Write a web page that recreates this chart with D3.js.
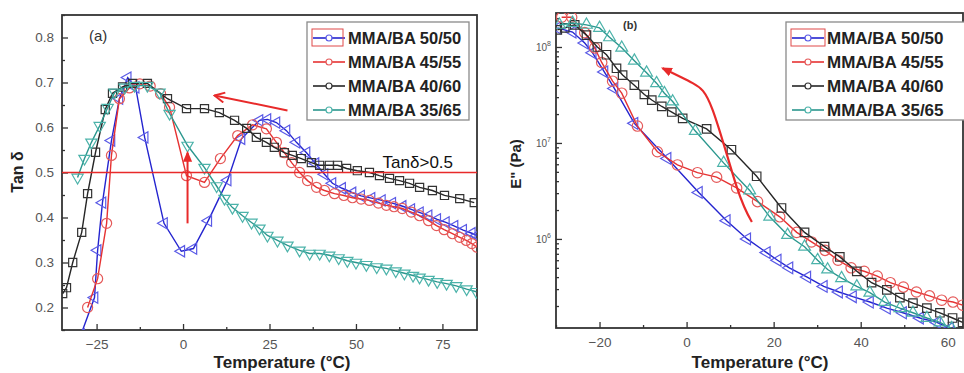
<!DOCTYPE html>
<meta charset="utf-8">
<script src="https://d3js.org/d3.v7.min.js"></script>
<style>
  body { margin: 0; background: #fff; }
  text { font-family: "Liberation Sans", Arial, sans-serif; }
</style>
<div id="chart"></div>
<script>

// ---------- data, panel (a): tan delta vs temperature
var seriesNames = ["MMA/BA 50/50", "MMA/BA 45/55", "MMA/BA 40/60", "MMA/BA 35/65"];

var tanT_50 = [-29.5, -25.6, -24.7, -23.3, -20.7, -18.4, -16, -13.7, -11.1, -5.5, -0.5, 3, 7.3, 12.9, 16.9, 22.1, 24.4, 27, 29.9, 32.8, 35.7, 38.3, 40.9, 43.2, 46, 49, 51.5, 54.5, 57.5, 60.5, 63.5, 66, 68.5, 71, 73.5, 76, 78.5, 81, 83.5, 85];
var tanV_50 = [0.14, 0.222, 0.327, 0.433, 0.571, 0.664, 0.711, 0.689, 0.578, 0.387, 0.325, 0.331, 0.393, 0.483, 0.575, 0.616, 0.618, 0.611, 0.593, 0.567, 0.544, 0.52, 0.496, 0.476, 0.465, 0.455, 0.448, 0.443, 0.438, 0.432, 0.425, 0.418, 0.411, 0.404, 0.396, 0.389, 0.381, 0.372, 0.365, 0.36];

var tanT_45 = [-27.6, -24.7, -22.1, -20.7, -18.4, -15.5, -12.5, -9.5, -6.5, -3.9, 1, 6.2, 10.8, 15.8, 20.1, 24.1, 27, 29.3, 31.4, 33.7, 36, 38.6, 40.9, 43.8, 46.5, 49, 51.5, 53.9, 56.5, 58.8, 61, 63.4, 66, 68.4, 71, 73.3, 75.5, 77.9, 80, 81.9, 83.5, 85];
var tanV_45 = [0.2, 0.264, 0.387, 0.538, 0.664, 0.688, 0.697, 0.692, 0.675, 0.645, 0.493, 0.478, 0.531, 0.582, 0.606, 0.597, 0.567, 0.544, 0.522, 0.5, 0.482, 0.467, 0.46, 0.453, 0.449, 0.444, 0.441, 0.438, 0.432, 0.427, 0.424, 0.42, 0.412, 0.404, 0.393, 0.382, 0.373, 0.364, 0.356, 0.349, 0.342, 0.334];

var tanT_40 = [-34.8, -33.7, -31.9, -29.3, -27.6, -25.3, -22.5, -20.4, -17.5, -14.6, -10.3, -4.5, 1, 6.2, 10.5, 14.9, 18.4, 21.2, 24.1, 26.4, 29.3, 31.6, 34.2, 37.1, 39.5, 42.3, 44.7, 47.3, 50.4, 53.9, 56.8, 59.7, 62.6, 65.5, 68.4, 72.1, 75.6, 80, 84.2];
var tanV_40 = [0.231, 0.244, 0.3, 0.367, 0.453, 0.545, 0.64, 0.676, 0.69, 0.698, 0.698, 0.664, 0.642, 0.642, 0.633, 0.616, 0.598, 0.578, 0.567, 0.556, 0.544, 0.538, 0.531, 0.522, 0.516, 0.516, 0.516, 0.509, 0.504, 0.5, 0.493, 0.487, 0.482, 0.476, 0.467, 0.46, 0.449, 0.442, 0.433];

var tanT_35 = [-30.5, -28.5, -26.5, -24.1, -21.8, -19.8, -16.9, -14, -10.3, -6.8, -3.9, 1.3, 6.2, 9.7, 12, 14.3, 17.2, 19.8, 22.1, 24.4, 27.3, 30.2, 33.7, 36.6, 39.5, 42.3, 45, 47.5, 50, 53, 56, 58.8, 61.5, 64, 66.5, 68.4, 71, 73.5, 76.2, 79, 82, 84.8];
var tanV_35 = [0.489, 0.531, 0.567, 0.604, 0.644, 0.678, 0.689, 0.693, 0.693, 0.678, 0.631, 0.56, 0.511, 0.47, 0.442, 0.422, 0.404, 0.389, 0.376, 0.36, 0.349, 0.338, 0.327, 0.32, 0.32, 0.316, 0.31, 0.304, 0.3, 0.295, 0.29, 0.287, 0.281, 0.276, 0.271, 0.267, 0.262, 0.257, 0.253, 0.248, 0.241, 0.235];

// ---------- data, panel (b): loss modulus E'' (Pa)
var eT_50 = [-29.7, -26.2, -23.4, -21.6, -18.9, -16.6, -12, -4.4, 2.8, 9.2, 13.9, 18.4, 20.9, 23.6, 27.7, 31.5, 35, 38.2, 42.1, 46, 49.7, 53.6, 57.5, 60.5];
var eV_50 = [1.58e8, 1.43e8, 1.1e8, 8.7e7, 5.5e7, 3.7e7, 1.6e7, 6.9e6, 3.05e6, 1.55e6, 1.0e6, 7.2e5, 6.0e5, 5.0e5, 4.0e5, 3.2e5, 2.8e5, 2.5e5, 2.2e5, 1.9e5, 1.7e5, 1.5e5, 1.35e5, 1.17e5];

var eT_45 = [-28.7, -26.4, -23.4, -21.1, -19.5, -17, -14.9, -11.3, -6.7, -2.1, 2.5, 6.9, 11.5, 16.3, 21.4, 25.3, 28.7, 31.8, 34.8, 37.8, 40.8, 43.8, 46.8, 49.8, 52.8, 55.8, 58.6, 61.2, 63.4];
var eV_45 = [2.04e8, 2.04e8, 1.41e8, 9.8e7, 6.9e7, 4.4e7, 3.3e7, 1.5e7, 8.1e6, 5.9e6, 4.9e6, 4.4e6, 3.4e6, 2.45e6, 1.7e6, 1.17e6, 9.3e5, 7.6e5, 6.0e5, 5.0e5, 4.6e5, 4.1e5, 3.5e5, 3.15e5, 2.8e5, 2.55e5, 2.3e5, 2.2e5, 2.04e5];

var eT_40 = [-29.7, -28, -25.7, -23, -20.5, -18.4, -16.1, -14.7, -12, -9.7, -8, -5.7, -3.4, -0.9, 4.6, 10.3, 16.1, 21.8, 27.1, 31.7, 35.2, 39.1, 42.5, 46, 49, 52, 55.2, 58.2, 61.1, 63.4];
var eV_40 = [1.51e8, 1.58e8, 1.7e8, 1.33e8, 1.0e8, 8.3e7, 6.0e7, 5.1e7, 4.0e7, 3.2e7, 2.8e7, 2.4e7, 2.1e7, 1.8e7, 1.4e7, 8.5e6, 4.5e6, 2.1e6, 1.17e6, 8.3e5, 6.5e5, 4.6e5, 3.5e5, 2.95e5, 2.45e5, 2.14e5, 1.9e5, 1.7e5, 1.5e5, 1.35e5];

var eT_35 = [-29.2, -26.2, -23, -20, -17.7, -14.9, -12, -9.2, -6.9, -5.1, -3.2, 2, 8.5, 14.5, 19.1, 23.2, 27.1, 30.1, 32.4, 35.6, 39.1, 42.1, 45.5, 49, 52, 55.2, 58.2, 60.9];
var eV_35 = [1.7e8, 1.78e8, 1.7e8, 1.58e8, 1.26e8, 9.8e7, 7.2e7, 5.4e7, 4.2e7, 3.3e7, 2.7e7, 1.33e7, 6.2e6, 3.2e6, 1.7e6, 1.1e6, 8.3e5, 6.0e5, 4.8e5, 3.9e5, 3.2e5, 2.75e5, 2.2e5, 1.9e5, 1.7e5, 1.5e5, 1.35e5, 1.17e5];

// tick values
var tanTicks = [0.2, 0.3, 0.4, 0.5, 0.6, 0.7, 0.8];
var tanMinor = [0.15, 0.25, 0.35, 0.45, 0.55, 0.65, 0.75, 0.85];
var tempTicksA = [-25, 0, 25, 50, 75];
var tempMinorA = [-12.5, 12.5, 37.5, 62.5];
var tempTicksB = [-20, 0, 20, 40, 60];
var tempMinorB = [-30, -10, 10, 30, 50];
var eTicks = [1e6, 1e7, 1e8];
var eMinor = [2e5, 3e5, 4e5, 5e5, 6e5, 7e5, 8e5, 9e5, 2e6, 3e6, 4e6, 5e6, 6e6, 7e6, 8e6, 9e6,
              2e7, 3e7, 4e7, 5e7, 6e7, 7e7, 8e7, 9e7, 2e8];

// annotations (data coordinates)
var tanLimit = 0.5;
var arrowFlat = [[30.2, 0.638], [9.1, 0.671]];
var arrowUp = [[1.3, 0.387], [1.3, 0.544]];
var arrowCurve = [[15, 1.5e6], [11.5, 3.5e6], [6, 2.2e7], [1.4, 4.2e7], [-5.5, 6.0e7]];

// ---------- drawing
var lineCol = ["#2424cf", "#e63232", "#262626", "#2b978e"];
var markCol = ["#5a5ae6", "#e55a5a", "#333333", "#4cb3aa"];
var red = "#e82a2a";

var svg = d3.select("#chart").append("svg")
    .attr("width", 964)
    .attr("height", 373);

var defs = svg.append("defs");
defs.append("marker").attr("id", "openHead")
    .attr("viewBox", "0 0 12 12").attr("refX", 11).attr("refY", 6)
    .attr("markerWidth", 12).attr("markerHeight", 12)
    .attr("markerUnits", "userSpaceOnUse").attr("orient", "auto")
  .append("path").attr("d", "M1,1 L11,6 L1,11")
    .attr("fill", "none").attr("stroke", red).attr("stroke-width", 2);
defs.append("marker").attr("id", "solidHead")
    .attr("viewBox", "0 0 12 12").attr("refX", 10).attr("refY", 6)
    .attr("markerWidth", 11).attr("markerHeight", 11)
    .attr("markerUnits", "userSpaceOnUse").attr("orient", "auto")
  .append("path").attr("d", "M0,1 L12,6 L0,11 Z").attr("fill", red);

function symbolFor(kind, size) {
  var t = kind === "circle" ? d3.symbolCircle : kind === "square" ? d3.symbolSquare : d3.symbolTriangle;
  return d3.symbol().type(t).size(size)();
}
function rotFor(kind) {
  return kind === "left" ? -90 : kind === "down" ? 180 : 0;
}
function zip(a, b) { return a.map(function (v, i) { return [v, b[i]]; }); }

function drawPanel(p) {
  var g = svg.append("g");
  var x = p.x, y = p.y;
  var x0 = x.range()[0], x1 = x.range()[1], y0 = y.range()[1], y1 = y.range()[0];

  defs.append("clipPath").attr("id", p.id)
    .append("rect").attr("x", x0).attr("y", y0).attr("width", x1 - x0).attr("height", y1 - y0);

  // axes with inward ticks
  g.append("g").attr("transform", "translate(0," + y1 + ")")
    .call(d3.axisBottom(x).tickValues(p.xTicks).tickSize(-6).tickPadding(9).tickFormat(d3.format("d")));
  g.append("g").attr("transform", "translate(0," + y1 + ")")
    .call(d3.axisBottom(x).tickValues(p.xMinor).tickSize(-3).tickFormat(""));
  g.append("g").attr("transform", "translate(" + x0 + ",0)")
    .call(d3.axisLeft(y).tickValues(p.yTicks).tickSize(-6).tickPadding(8).tickFormat(p.yFormat));
  g.append("g").attr("transform", "translate(" + x0 + ",0)")
    .call(d3.axisLeft(y).tickValues(p.yMinor).tickSize(-3).tickFormat(""));
  g.selectAll(".domain").remove();
  g.selectAll(".tick line").attr("stroke", "#333").attr("stroke-width", 1.3);
  g.selectAll(".tick text").attr("fill", "#555").style("font-size", "13.5px");

  // frame
  g.append("rect").attr("x", x0).attr("y", y0).attr("width", x1 - x0).attr("height", y1 - y0)
    .attr("fill", "none").attr("stroke", "#333").attr("stroke-width", 1.8);

  var plot = g.append("g").attr("clip-path", "url(#" + p.id + ")");
  var line = d3.line().x(function (d) { return x(d[0]); }).y(function (d) { return y(d[1]); });

  p.series.forEach(function (s, i) {
    var pts = zip(s[0], s[1]);
    plot.append("path").datum(pts).attr("d", line)
      .attr("fill", "none").attr("stroke", lineCol[i]).attr("stroke-width", 1.4);
    plot.selectAll(".m" + i).data(pts).enter().append("path")
      .attr("d", symbolFor(p.shapes[i], p.sizes[i]))
      .attr("transform", function (d) {
        return "translate(" + x(d[0]) + "," + y(d[1]) + ") rotate(" + rotFor(p.shapes[i]) + ")";
      })
      .attr("fill", "none").attr("stroke", markCol[i]).attr("stroke-width", 1.2);
  });
  return { g: g, plot: plot, line: line };
}

function drawLegend(lx, ly, lw, fontPx, boxSample) {
  var lg = svg.append("g");
  lg.append("rect").attr("x", lx).attr("y", ly).attr("width", lw).attr("height", 98)
    .attr("fill", "#fff").attr("stroke", "#8a8a8a").attr("stroke-width", 1.3);
  seriesNames.forEach(function (name, i) {
    var cy = ly + 16 + i * 24;
    lg.append("line").attr("x1", lx + 6).attr("x2", lx + 38).attr("y1", cy).attr("y2", cy)
      .attr("stroke", lineCol[i]).attr("stroke-width", 1.6);
    lg.append("circle").attr("cx", lx + 22).attr("cy", cy).attr("r", 3)
      .attr("fill", "#fff").attr("stroke", markCol[i]).attr("stroke-width", 1.2);
    lg.append("text").attr("x", lx + 41).attr("y", cy + 6).text(name)
      .style("font-size", fontPx + "px").style("font-weight", "bold").attr("fill", "#222");
  });
  lg.append("rect").attr("x", lx + 5).attr("y", ly + 7).attr("width", boxSample).attr("height", 17)
    .attr("fill", "none").attr("stroke", "#e04848").attr("stroke-width", 1);
}

// ----- panel (a)
var xA = d3.scaleLinear().domain([-35, 85]).range([62, 477]);
var yA = d3.scaleLinear().domain([0.15, 0.85]).range([330, 15]);

var pA = drawPanel({
  id: "clipA", x: xA, y: yA,
  xTicks: tempTicksA, xMinor: tempMinorA,
  yTicks: tanTicks, yMinor: tanMinor, yFormat: d3.format(".1f"),
  series: [[tanT_50, tanV_50], [tanT_45, tanV_45], [tanT_40, tanV_40], [tanT_35, tanV_35]],
  shapes: ["left", "circle", "square", "down"],
  sizes: [55, 80, 66, 55]
});

// tan delta = 0.5 line and arrows
pA.plot.append("line").attr("x1", xA(-35)).attr("x2", xA(85)).attr("y1", yA(tanLimit)).attr("y2", yA(tanLimit))
  .attr("stroke", red).attr("stroke-width", 1.5);
svg.append("text").attr("x", xA(57.7)).attr("y", yA(0.509)).text("Tanδ>0.5")
  .style("font-size", "17px").attr("fill", "#111");
svg.append("path").datum(arrowFlat).attr("d", pA.line)
  .attr("stroke", red).attr("stroke-width", 2).attr("fill", "none").attr("marker-end", "url(#openHead)");
svg.append("path").datum(arrowUp).attr("d", pA.line)
  .attr("stroke", red).attr("stroke-width", 2).attr("fill", "none").attr("marker-end", "url(#solidHead)");

svg.append("text").attr("x", 89).attr("y", 41).text("(a)").style("font-size", "15px").attr("fill", "#333");

svg.append("text").attr("transform", "translate(23,172) rotate(-90)").attr("text-anchor", "middle")
  .text("Tan δ").style("font-size", "16px").style("font-weight", "bold").attr("fill", "#222");
svg.append("text").attr("x", 282).attr("y", 368).attr("text-anchor", "middle")
  .text("Temperature (°C)").style("font-size", "17px").style("font-weight", "bold").attr("fill", "#222");

drawLegend(307, 22, 162, 16.5, 31);

// ----- panel (b)
var xB = d3.scaleLinear().domain([-30, 63.5]).range([556, 963]);
var yB = d3.scaleLog().domain([1.18e5, 2.26e8]).range([328, 13]);

var pB = drawPanel({
  id: "clipB", x: xB, y: yB,
  xTicks: tempTicksB, xMinor: tempMinorB,
  yTicks: eTicks, yMinor: eMinor, yFormat: function () { return ""; },
  series: [[eT_50, eV_50], [eT_45, eV_45], [eT_40, eV_40], [eT_35, eV_35]],
  shapes: ["left", "circle", "square", "up"],
  sizes: [60, 85, 72, 60]
});

// log tick labels as 10 with superscript exponent
eTicks.forEach(function (v) {
  var t = svg.append("text").attr("x", xB(-30) - 5).attr("y", yB(v) + 4).attr("text-anchor", "end")
    .attr("fill", "#555").style("font-size", "10px");
  t.append("tspan").text("10");
  t.append("tspan").attr("dy", -5).style("font-size", "7px").text(Math.round(Math.log10(v)));
});

svg.append("path").datum(arrowCurve).attr("d", pB.line.curve(d3.curveNatural))
  .attr("stroke", red).attr("stroke-width", 2.2).attr("fill", "none").attr("marker-end", "url(#solidHead)");

svg.append("text").attr("x", 623).attr("y", 29).text("(b)")
  .style("font-size", "11px").style("font-weight", "bold").attr("fill", "#333");

svg.append("text").attr("transform", "translate(521,164) rotate(-90)").attr("text-anchor", "middle")
  .text("E\" (Pa)").style("font-size", "15px").style("font-weight", "bold").attr("fill", "#222");
svg.append("text").attr("x", 760).attr("y", 368).attr("text-anchor", "middle")
  .text("Temperature (°C)").style("font-size", "17px").style("font-weight", "bold").attr("fill", "#222");

drawLegend(786, 22, 180, 17, 34);

</script>
